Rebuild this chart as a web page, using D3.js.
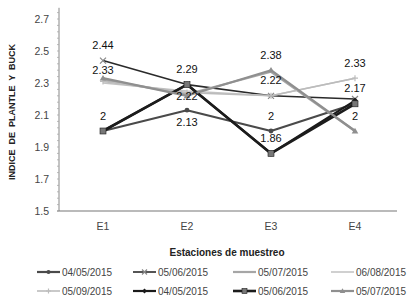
<!DOCTYPE html>
<html>
<head>
<meta charset="utf-8">
<script src="https://cdn.jsdelivr.net/npm/d3@7"></script>
<style>
  body { margin: 0; background: #fff; }
  svg { display: block; font-family: "Liberation Sans", Arial, sans-serif; }
</style>
</head>
<body>
<svg id="chart" width="410" height="305"></svg>
<script>
const stations = ["E1", "E2", "E3", "E4"];
const seriesNames = ["04/05/2015", "05/06/2015", "05/07/2015", "06/08/2015",
                     "05/09/2015", "04/05/2015", "05/06/2015", "05/07/2015"];
const s1 = [2.00, 2.13, 2.00, 2.17];
const s2 = [2.44, 2.29, 2.22, 2.20];
const s3 = [2.32, 2.23, 2.37, 2.00];
const s4 = [2.30, 2.25, 2.22, 2.33];
const s5 = [2.31, 2.24, 2.22, 2.33];
const s6 = [2.00, 2.29, 1.86, 2.19];
const s7 = [2.00, 2.29, 1.86, 2.17];
const s8 = [2.33, 2.22, 2.38, 2.00];
const yTicks = [1.5, 1.7, 1.9, 2.1, 2.3, 2.5, 2.7];
// [station, value, text, placement]
const pointLabels = [
  ["E1", 2.44, "2.44", "above"], ["E1", 2.33, "2.33", "near"], ["E1", 2.00, "2", "above"],
  ["E2", 2.29, "2.29", "above"], ["E2", 2.22, "2.22", "center"], ["E2", 2.13, "2.13", "below"],
  ["E3", 2.38, "2.38", "above"], ["E3", 2.22, "2.22", "above"], ["E3", 2.00, "2", "above"], ["E3", 1.86, "1.86", "above"],
  ["E4", 2.33, "2.33", "above"], ["E4", 2.17, "2.17", "above"], ["E4", 2.00, "2", "above"]
];

const allSeries = [s1, s2, s3, s4, s5, s6, s7, s8];
const styles = [
  { color: "#4a4a4a", width: 2.2, marker: "circle" },
  { color: "#2a2a2a", width: 1.6, marker: "cross" },
  { color: "#a6a6a6", width: 2.2, marker: "none" },
  { color: "#c4c4c4", width: 1.6, marker: "none" },
  { color: "#bcbcbc", width: 1.6, marker: "plus" },
  { color: "#1a1a1a", width: 2.2, marker: "diamond" },
  { color: "#1c1c1c", width: 2.6, marker: "square" },
  { color: "#8f8f8f", width: 2.2, marker: "triangle" }
];
const labelShift = { above: -11.5, near: -4, center: 4, below: 16 };

const svg = d3.select("#chart");
const x = d3.scaleBand().domain(stations).range([61, 397]);
const y = d3.scaleLinear().domain([1.5, 2.7]).range([211, 19]);
const cx = d => x(d) + x.bandwidth() / 2;

// axes
svg.append("line")
  .attr("x1", 59).attr("x2", 59)
  .attr("y1", y(2.77)).attr("y2", y(1.5))
  .attr("stroke", "#888").attr("stroke-width", 1);
svg.append("line")
  .attr("x1", 57).attr("x2", 397)
  .attr("y1", y(1.5)).attr("y2", y(1.5))
  .attr("stroke", "#777").attr("stroke-width", 1.2);

// minor ticks
d3.range(1.5, 2.771, 0.04).forEach(v => {
  svg.append("line")
    .attr("x1", 57).attr("x2", 59)
    .attr("y1", y(v)).attr("y2", y(v))
    .attr("stroke", "#aaa").attr("stroke-width", 0.8);
});

svg.append("g").selectAll("text")
  .data(yTicks).join("text")
  .attr("x", 49).attr("y", d => y(d) + 4)
  .attr("text-anchor", "end")
  .attr("font-size", 10.5).attr("fill", "#444")
  .text(d => d.toFixed(1));

svg.append("g").selectAll("text")
  .data(stations).join("text")
  .attr("x", d => cx(d)).attr("y", 230)
  .attr("text-anchor", "middle")
  .attr("font-size", 10.5).attr("fill", "#444")
  .text(d => d);

svg.append("text")
  .attr("transform", "translate(15,112) rotate(-90)")
  .attr("text-anchor", "middle")
  .attr("font-size", 9).attr("font-weight", "bold")
  .attr("fill", "#222")
  .attr("xml:space", "preserve")
  .text("INDICE  DE  PLANTLE  Y  BUCK");

svg.append("text")
  .attr("x", 227).attr("y", 256)
  .attr("text-anchor", "middle")
  .attr("font-size", 10).attr("font-weight", "bold")
  .attr("fill", "#222")
  .text("Estaciones de muestreo");

function drawMarker(g, type, px, py, color, size) {
  const s = size;
  if (type === "circle") {
    g.append("circle").attr("cx", px).attr("cy", py).attr("r", s * 0.8).attr("fill", color);
  } else if (type === "square") {
    g.append("rect").attr("x", px - s).attr("y", py - s).attr("width", 2 * s).attr("height", 2 * s)
      .attr("fill", "#777").attr("stroke", color).attr("stroke-width", 0.6);
  } else if (type === "diamond") {
    g.append("path").attr("d", `M${px},${py - s}L${px + s},${py}L${px},${py + s}L${px - s},${py}Z`).attr("fill", color);
  } else if (type === "triangle") {
    g.append("path").attr("d", `M${px},${py - s * 1.1}L${px + s * 1.1},${py + s * 0.8}L${px - s * 1.1},${py + s * 0.8}Z`).attr("fill", color);
  } else if (type === "cross") {
    g.append("path").attr("d", `M${px - s},${py - s}L${px + s},${py + s}M${px - s},${py + s}L${px + s},${py - s}`)
      .attr("stroke", "#888").attr("stroke-width", 1.2);
  } else if (type === "plus") {
    g.append("path").attr("d", `M${px - s},${py}L${px + s},${py}M${px},${py - s}L${px},${py + s}`)
      .attr("stroke", color).attr("stroke-width", 1.2);
  }
}

const line = d3.line().x((d, i) => cx(stations[i])).y(d => y(d));
const plot = svg.append("g");
allSeries.forEach((vals, k) => {
  const st = styles[k];
  plot.append("path")
    .datum(vals)
    .attr("d", line)
    .attr("fill", "none")
    .attr("stroke", st.color)
    .attr("stroke-width", st.width)
    .attr("stroke-linejoin", "round");
});
allSeries.forEach((vals, k) => {
  const st = styles[k];
  vals.forEach((v, i) => drawMarker(plot, st.marker, cx(stations[i]), y(v), st.color, 3));
});

svg.append("g").selectAll("text")
  .data(pointLabels).join("text")
  .attr("x", d => cx(d[0]))
  .attr("y", d => y(d[1]) + labelShift[d[3]])
  .attr("text-anchor", "middle")
  .attr("font-size", 11).attr("fill", "#111")
  .text(d => d[2]);

// legend
const legendX = [37, 133, 233, 331];
const legendY = [272, 291];
const legend = svg.append("g");
seriesNames.forEach((name, k) => {
  const st = styles[k];
  const lx = legendX[k % 4];
  const ly = legendY[Math.floor(k / 4)];
  legend.append("line")
    .attr("x1", lx).attr("x2", lx + 23)
    .attr("y1", ly).attr("y2", ly)
    .attr("stroke", st.color).attr("stroke-width", st.width);
  drawMarker(legend, st.marker, lx + 11.5, ly, st.color, 2.5);
  legend.append("text")
    .attr("x", lx + 25).attr("y", ly + 3.5)
    .attr("font-size", 10).attr("fill", "#444")
    .text(name);
});
</script>
</body>
</html>
